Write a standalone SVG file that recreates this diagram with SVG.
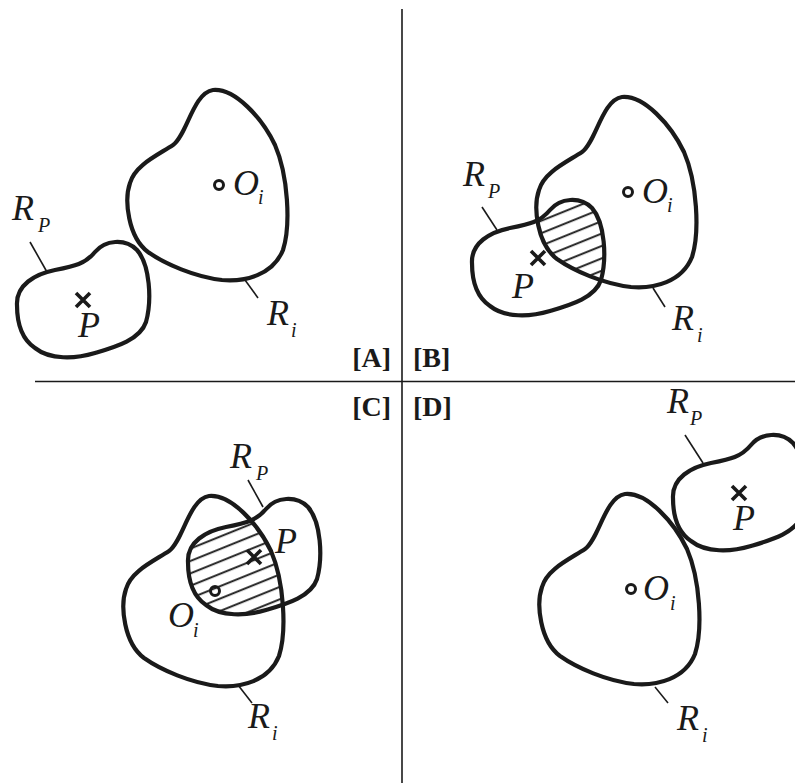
<svg xmlns="http://www.w3.org/2000/svg" width="795" height="783" viewBox="0 0 795 783">
<style>
.ol{fill:none;stroke:#1a1a1a;stroke-width:4.2;stroke-linejoin:round}
.ld{stroke:#1a1a1a;stroke-width:1.6;fill:none}
.ax{stroke:#1a1a1a;stroke-width:1.6;fill:none}
.oc{fill:none;stroke:#1a1a1a;stroke-width:3}
.xm{stroke:#1a1a1a;stroke-width:3.6;fill:none}
.t{font-family:"Liberation Serif","Times New Roman",serif;font-style:italic;font-size:36px;fill:#1a1a1a}
.s{font-family:"Liberation Serif","Times New Roman",serif;font-style:italic;font-size:20px;fill:#1a1a1a}
.b{font-family:"Liberation Serif","Times New Roman",serif;font-weight:bold;font-size:28px;fill:#1a1a1a}
</style>
<defs>
<path id="Ri" d="M213,90 C235,88 262,118 275,145 C288,175 291,225 283,250 C273,275 245,282 222,280 C195,277 165,264 148,252 C128,237 124,200 130,183 C135,165 158,155 173,145 C187,135 193,93 213,90 Z"/>
<path id="Rp" d="M17,305 C16,285 35,274 55,270 C75,266 85,264 95,252 C105,240 125,238 137,250 C150,265 152,300 146,322 C140,340 115,347 95,353 C75,359 50,360 35,348 C20,338 17,320 17,305 Z"/>
<g id="xmark"><path class="xm" d="M-7,-7 L7,7 M-7,7 L7,-7"/></g>
<pattern id="hatch" patternUnits="userSpaceOnUse" width="20" height="11.5" patternTransform="rotate(-22)">
<line x1="0" y1="5" x2="20" y2="5" stroke="#1a1a1a" stroke-width="1.9"/>
</pattern>
<clipPath id="cRiB"><use href="#Ri" transform="translate(409,7)"/></clipPath>
<clipPath id="cRpB"><use href="#Rp" transform="translate(455,-42)"/></clipPath>
<clipPath id="cRiC"><use href="#Ri" transform="translate(-4,406)"/></clipPath>
<clipPath id="cRpC"><use href="#Rp" transform="translate(171,257)"/></clipPath>
</defs>
<rect width="795" height="783" fill="#ffffff"/>

<g id="axes">
<line class="ax" x1="402" y1="9" x2="402" y2="783"/>
<line class="ax" x1="35" y1="381.5" x2="795" y2="381.5"/>
</g>

<g id="hatching">
<g clip-path="url(#cRiB)"><g clip-path="url(#cRpB)"><rect x="450" y="150" width="200" height="200" fill="url(#hatch)"/></g></g>
<g clip-path="url(#cRiC)"><g clip-path="url(#cRpC)"><rect x="150" y="460" width="200" height="200" fill="url(#hatch)"/></g></g>
</g>

<g id="connectors">
<line class="ld" x1="30" y1="242" x2="47" y2="272"/>
<line class="ld" x1="245" y1="280" x2="258" y2="298"/>
<line class="ld" x1="482" y1="207" x2="497" y2="230"/>
<line class="ld" x1="653" y1="288" x2="665" y2="307"/>
<line class="ld" x1="248" y1="480" x2="263" y2="507"/>
<line class="ld" x1="238" y1="685" x2="252" y2="703"/>
<line class="ld" x1="685" y1="435" x2="703" y2="463"/>
<line class="ld" x1="655" y1="687" x2="668" y2="703"/>
</g>

<g id="panelA">
<g id="A-Ri"><use href="#Ri" class="ol"/></g>
<g id="A-Rp"><use href="#Rp" class="ol"/></g>
<circle class="oc" cx="219" cy="185" r="4.5"/>
<use href="#xmark" transform="translate(83,300)"/>
<text class="t" x="12" y="220">R</text><text class="s" x="38" y="232">P</text>
<text class="t" x="233" y="195">O</text><text class="s" x="258" y="204">i</text>
<text class="t" x="267" y="325">R</text><text class="s" x="291" y="337">i</text>
<text class="t" x="78" y="337">P</text>
<text class="b" x="391" y="367" text-anchor="end">[A]</text>
</g>

<g id="panelB">
<g id="B-Ri"><use href="#Ri" class="ol" transform="translate(409,7)"/></g>
<g id="B-Rp"><use href="#Rp" class="ol" transform="translate(455,-42)"/></g>
<circle class="oc" cx="628" cy="192" r="4.5"/>
<use href="#xmark" transform="translate(538,258)"/>
<text class="t" x="463" y="186">R</text><text class="s" x="488" y="198">P</text>
<text class="t" x="642" y="203">O</text><text class="s" x="667" y="212">i</text>
<text class="t" x="672" y="330">R</text><text class="s" x="697" y="342">i</text>
<text class="t" x="512" y="298">P</text>
<text class="b" x="413" y="367">[B]</text>
</g>

<g id="panelC">
<g id="C-Ri"><use href="#Ri" class="ol" transform="translate(-4,406)"/></g>
<g id="C-Rp"><use href="#Rp" class="ol" transform="translate(171,257)"/></g>
<circle class="oc" cx="215" cy="591" r="4.5"/>
<use href="#xmark" transform="translate(254,557)"/>
<text class="t" x="230" y="468">R</text><text class="s" x="256" y="480">P</text>
<text class="t" x="168" y="627">O</text><text class="s" x="193" y="637">i</text>
<text class="t" x="248" y="728">R</text><text class="s" x="272" y="740">i</text>
<text class="t" x="275" y="553">P</text>
<text class="b" x="391" y="416" text-anchor="end">[C]</text>
</g>

<g id="panelD">
<g id="D-Ri"><use href="#Ri" class="ol" transform="translate(412,404)"/></g>
<g id="D-Rp"><use href="#Rp" class="ol" transform="translate(656,193)"/></g>
<circle class="oc" cx="631" cy="589" r="4.5"/>
<use href="#xmark" transform="translate(739,493)"/>
<text class="t" x="667" y="413">R</text><text class="s" x="690" y="425">P</text>
<text class="t" x="643" y="600">O</text><text class="s" x="670" y="610">i</text>
<text class="t" x="677" y="730">R</text><text class="s" x="702" y="742">i</text>
<text class="t" x="733" y="530">P</text>
<text class="b" x="413" y="416">[D]</text>
</g>
</svg>
